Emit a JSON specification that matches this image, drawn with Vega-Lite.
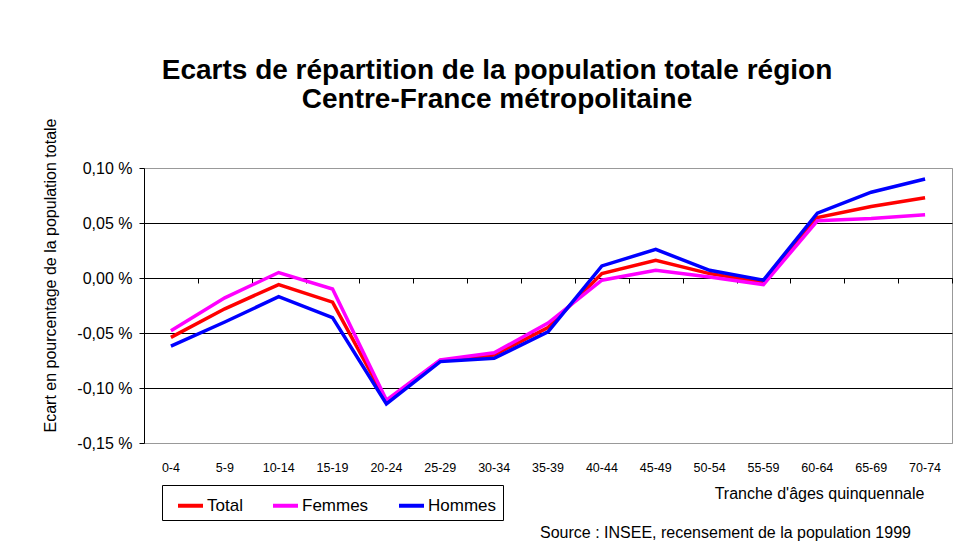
{
  "$schema": "https://vega.github.io/schema/vega-lite/v6.json",
  "width": 808,
  "height": 275,
  "autosize": {"type": "none"},
  "padding": {"left": 144, "top": 168, "right": 25, "bottom": 110},
  "background": "white",
  "title": {
    "text": ["Ecarts de répartition de la population totale région", "Centre-France métropolitaine"],
    "font": "Liberation Sans",
    "fontSize": 28,
    "fontWeight": "bold",
    "color": "black",
    "anchor": "middle",
    "frame": "group",
    "dx": -51,
    "baseline": "alphabetic",
    "lineHeight": 29,
    "offset": -18
  },
  "config": {
    "view": {"stroke": "#999999", "strokeWidth": 1},
    "font": "Liberation Sans"
  },
  "data": {
    "values": [
      {"age": "0-4", "serie": "Total", "value": -0.054},
      {"age": "5-9", "serie": "Total", "value": -0.028},
      {"age": "10-14", "serie": "Total", "value": -0.006},
      {"age": "15-19", "serie": "Total", "value": -0.022},
      {"age": "20-24", "serie": "Total", "value": -0.112},
      {"age": "25-29", "serie": "Total", "value": -0.075},
      {"age": "30-34", "serie": "Total", "value": -0.070},
      {"age": "35-39", "serie": "Total", "value": -0.045},
      {"age": "40-44", "serie": "Total", "value": 0.004},
      {"age": "45-49", "serie": "Total", "value": 0.016},
      {"age": "50-54", "serie": "Total", "value": 0.004},
      {"age": "55-59", "serie": "Total", "value": -0.004},
      {"age": "60-64", "serie": "Total", "value": 0.055},
      {"age": "65-69", "serie": "Total", "value": 0.065},
      {"age": "70-74", "serie": "Total", "value": 0.073},
      {"age": "0-4", "serie": "Femmes", "value": -0.048},
      {"age": "5-9", "serie": "Femmes", "value": -0.018},
      {"age": "10-14", "serie": "Femmes", "value": 0.005},
      {"age": "15-19", "serie": "Femmes", "value": -0.010},
      {"age": "20-24", "serie": "Femmes", "value": -0.111},
      {"age": "25-29", "serie": "Femmes", "value": -0.0745},
      {"age": "30-34", "serie": "Femmes", "value": -0.068},
      {"age": "35-39", "serie": "Femmes", "value": -0.041},
      {"age": "40-44", "serie": "Femmes", "value": -0.002},
      {"age": "45-49", "serie": "Femmes", "value": 0.007},
      {"age": "50-54", "serie": "Femmes", "value": 0.001},
      {"age": "55-59", "serie": "Femmes", "value": -0.006},
      {"age": "60-64", "serie": "Femmes", "value": 0.052},
      {"age": "65-69", "serie": "Femmes", "value": 0.054},
      {"age": "70-74", "serie": "Femmes", "value": 0.0575},
      {"age": "0-4", "serie": "Hommes", "value": -0.062},
      {"age": "5-9", "serie": "Hommes", "value": -0.040},
      {"age": "10-14", "serie": "Hommes", "value": -0.017},
      {"age": "15-19", "serie": "Hommes", "value": -0.036},
      {"age": "20-24", "serie": "Hommes", "value": -0.1145},
      {"age": "25-29", "serie": "Hommes", "value": -0.076},
      {"age": "30-34", "serie": "Hommes", "value": -0.073},
      {"age": "35-39", "serie": "Hommes", "value": -0.049},
      {"age": "40-44", "serie": "Hommes", "value": 0.011},
      {"age": "45-49", "serie": "Hommes", "value": 0.026},
      {"age": "50-54", "serie": "Hommes", "value": 0.007},
      {"age": "55-59", "serie": "Hommes", "value": -0.002},
      {"age": "60-64", "serie": "Hommes", "value": 0.059},
      {"age": "65-69", "serie": "Hommes", "value": 0.078},
      {"age": "70-74", "serie": "Hommes", "value": 0.090}
    ]
  },
  "encoding": {
    "y": {
      "field": "value",
      "type": "quantitative",
      "scale": {"domain": [-0.15, 0.1], "nice": false, "zero": false},
      "axis": {
        "values": [-0.15, -0.1, -0.05, 0, 0.05, 0.1],
        "labelExpr": "(datum.value < 0 ? '-' : '') + replace(format(abs(datum.value), '.2f'), '.', ',') + ' %'",
        "labelFont": "Liberation Sans",
        "labelFontSize": 16,
        "labelColor": "black",
        "labelPadding": 7,
        "tickSize": 5,
        "tickColor": "black",
        "domainColor": "black",
        "grid": true,
        "gridColor": {"condition": {"test": "datum.value > 0.099 || datum.value < -0.149", "value": "#999999"}, "value": "black"},
        "gridOpacity": 1,
        "title": "Ecart en pourcentage de la population totale",
        "titleFont": "Liberation Sans",
        "titleFontSize": 16,
        "titleFontWeight": "normal",
        "titleColor": "black",
        "titleX": -94,
        "titleY": 107,
        "titleAngle": -90,
        "titleAlign": "center",
        "titleBaseline": "middle"
      }
    },
    "color": {
      "field": "serie",
      "type": "nominal",
      "scale": {"domain": ["Total", "Femmes", "Hommes"], "range": ["#ff0000", "#ff00ff", "#0000ff"]},
      "legend": {
        "orient": "none",
        "legendX": 18,
        "legendY": 317,
        "direction": "horizontal",
        "title": null,
        "strokeColor": "black",
        "fillColor": "white",
        "padding": 6,
        "symbolOffset": 8,
        "symbolType": "stroke",
        "symbolSize": 625,
        "symbolStrokeWidth": 4,
        "labelFont": "Liberation Sans",
        "labelFontSize": 17,
        "labelColor": "black",
        "columnPadding": 20,
        "labelOffset": 2
      }
    }
  },
  "layer": [
    {
      "mark": {"type": "line", "strokeWidth": 3.5},
      "encoding": {
        "x": {
          "field": "age",
          "type": "ordinal",
          "sort": ["0-4", "5-9", "10-14", "15-19", "20-24", "25-29", "30-34", "35-39", "40-44", "45-49", "50-54", "55-59", "60-64", "65-69", "70-74"],
          "scale": {"type": "band", "paddingInner": 0, "paddingOuter": 0},
          "axis": {
            "orient": "bottom",
            "domain": false,
            "ticks": false,
            "grid": false,
            "labelAngle": 0,
            "labelFont": "Liberation Sans",
            "labelFontSize": 12.5,
            "labelColor": "black",
            "labelPadding": 18,
            "title": "Tranche d'âges quinquennale",
            "titleFont": "Liberation Sans",
            "titleFontSize": 16,
            "titleFontWeight": "normal",
            "titleColor": "black",
            "titleX": 675,
            "titleY": 50,
            "titleAlign": "center",
            "titleBaseline": "middle"
          }
        }
      }
    },
    {
      "mark": {"type": "line", "opacity": 0},
      "encoding": {
        "x": {
          "field": "age",
          "type": "ordinal",
          "sort": ["0-4", "5-9", "10-14", "15-19", "20-24", "25-29", "30-34", "35-39", "40-44", "45-49", "50-54", "55-59", "60-64", "65-69", "70-74"],
          "scale": {"type": "band", "paddingInner": 0, "paddingOuter": 0},
          "axis": {
            "orient": "bottom",
            "offset": -165,
            "labels": false,
            "grid": false,
            "domain": true,
            "domainColor": "black",
            "ticks": true,
            "tickBand": "extent",
            "tickSize": 5,
            "tickColor": "black",
            "title": "Source : INSEE, recensement de la population 1999",
            "titleFont": "Liberation Sans",
            "titleFontSize": 16,
            "titleFontWeight": "normal",
            "titleColor": "black",
            "titleX": 581,
            "titleY": 254,
            "titleAlign": "center",
            "titleBaseline": "middle"
          }
        }
      }
    }
  ],
  "resolve": {"axis": {"x": "independent"}}
}
